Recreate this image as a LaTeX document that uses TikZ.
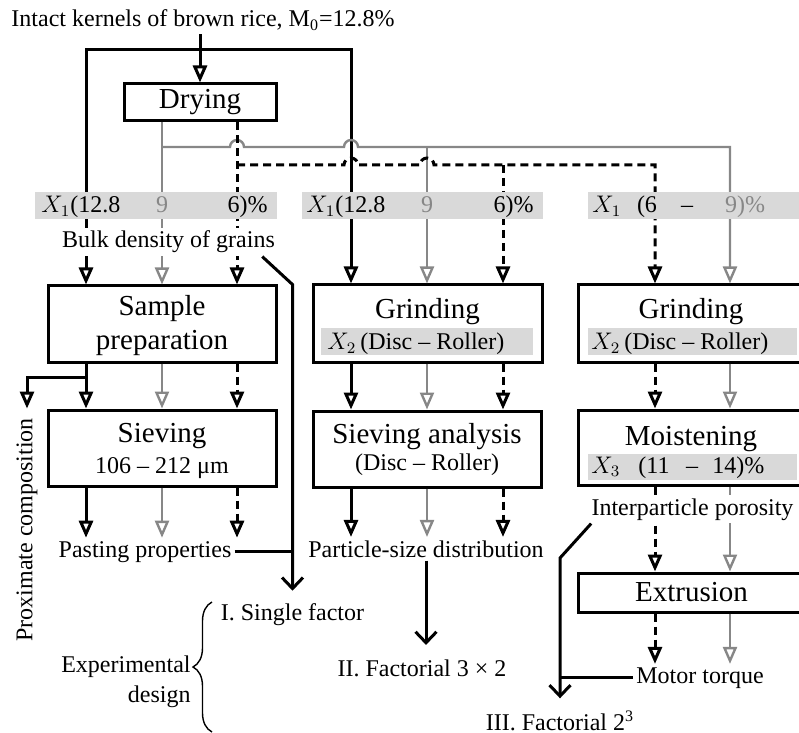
\documentclass[tikz,border=0pt]{standalone}
\usepackage{fontspec}
\setmainfont{Liberation Serif}
\usepackage{tikz}
\usetikzlibrary{arrows.meta,decorations.pathreplacing}
\definecolor{barfill}{HTML}{D9D9D9}
\definecolor{linegray}{HTML}{878787}
\tikzset{
  procbox/.style = {draw=black, line width=1.5pt, inner sep=0pt, font=\fontsize{14.5}{17}\selectfont},
  ptitle/.style = {inner sep=0pt, font=\fontsize{14.5}{17}\selectfont},
  plabel/.style = {inner sep=1.5pt, font=\fontsize{12}{15}\selectfont},
  pcover/.style = {plabel, fill=white},
  pbar/.style = {fill=barfill, inner sep=0pt, minimum height=13.5pt},
  lblack/.style = {draw=black, line width=1.5pt},
  lgray/.style = {draw=linegray, line width=1.2pt},
  ldash/.style = {lblack, dash pattern=on 4pt off 2.5pt},
  design/.style = {lblack, -{Straight Barb[length=5.5pt,width=10.5pt]}},
}

\begin{document}
\begin{tikzpicture}[x=0.5pt, y=-0.5pt, >={Triangle[open,length=8.5pt,width=7pt]}]
\clip [use as bounding box] (0,0) rectangle (799,733);

%column positions
\coordinate (L1) at (86,50);
\coordinate (L2) at (162,147);
\coordinate (L3) at (237,165);
\coordinate (M1) at (351,50);
\coordinate (M2) at (427,147);
\coordinate (M3) at (503,165);
\coordinate (R3) at (655,165);
\coordinate (R2) at (730,147);

\node [plabel, anchor=base] (rice) at (203,27) {Intact kernels of brown rice, M\textsubscript{0}=12.8\%};
\node [procbox, minimum width=76pt, minimum height=18.5pt] (dry) at (200,102.5) {Drying};

%left column
\node [procbox, minimum width=114pt, minimum height=38pt] (prep) at (162,324) {};
\node [ptitle, anchor=base] (prep1) at (162,315) {Sample};
\node [ptitle, anchor=base] (prep2) at (162,350) {preparation};
\node [procbox, minimum width=114pt, minimum height=38pt] (sieve) at (162,448) {};
\node [ptitle, anchor=base] (sieve1) at (162,442) {Sieving};
\node [plabel, anchor=base] (sieve2) at (162,473) {106 – 212 μm};
\node [plabel, anchor=base] (past) at (145,557) {Pasting properties};
\node [plabel, rotate=90] (prox) at (27,530) {Proximate composition};

%middle column
\node [procbox, minimum width=114.5pt, minimum height=38.5pt] (grind) at (427.5,323.5) {};
\node [ptitle, anchor=base] (grind1) at (427.5,318) {Grinding};
\node [pbar, minimum width=106pt] (gbar) at (427,341.5) {};
\node [plabel, anchor=base west] (grind2t) at (324,350) {$X_2$\,(Disc – Roller)};
\node [procbox, minimum width=114pt, minimum height=38pt] (sana) at (427,449) {};
\node [ptitle, anchor=base] (sana1) at (427,443) {Sieving analysis};
\node [plabel, anchor=base] (sana2) at (427,470) {(Disc – Roller)};
\node [plabel, anchor=base] (part) at (426,557) {Particle-size distribution};

%right column
\node [procbox, minimum width=113.5pt, minimum height=38.5pt] (grind2) at (691.5,323.5) {};
\node [ptitle, anchor=base] (grind21) at (691,318) {Grinding};
\node [pbar, minimum width=104.5pt] (g2bar) at (692.5,341.5) {};
\node [plabel, anchor=base west] (grind22) at (588,350) {$X_2$\,(Disc – Roller)};
\node [procbox, minimum width=113.5pt, minimum height=37.5pt] (moist) at (691.5,447.5) {};
\node [ptitle, anchor=base] (moist1) at (691,445) {Moistening};
\node [pbar, minimum width=104.5pt, minimum height=13pt] (mbar) at (692.5,467) {};
\node [plabel, anchor=base west] (moistx) at (588,473) {$X_3$};
\node [plabel, anchor=base west] (moista) at (635,473) {(11};
\node [plabel, anchor=base] (moistb) at (692,473) {–};
\node [plabel, anchor=base west] (moistc) at (709,473) {14)\%};
\node [procbox, minimum width=113.5pt, minimum height=19.5pt] (extr) at (691.5,592.5) {Extrusion};
\node [plabel, anchor=base] (motor) at (700,683) {Motor torque};

%experimental design
\node [plabel, anchor=base] (single) at (292.5,620) {I. Single factor};
\node [plabel, anchor=base] (fac2) at (422,676) {II. Factorial 3 × 2};
\node [plabel, anchor=base] (fac3) at (560,730) {III. Factorial 2\textsuperscript{3}};
\node [plabel, align=right, anchor=east] (expd) at (194,682) {Experimental\\design};

%lines from drying
\draw [lblack, ->] (dry.north |- rice.south) -- (dry.north);
\draw [lblack, <->] (L1 |- prep.north) -- (L1) -- (M1) -- (M1 |- grind.north);
\draw [lgray, ->] (L2 |- dry.south) -- (L2 |- prep.north);
\draw [lgray, ->] (L2) -- ([xshift=-3.5pt]L3 |- L2) arc [start angle=180, end angle=0, radius=3.5pt]
  -- ([xshift=-3.5pt]M1 |- L2) arc [start angle=180, end angle=0, radius=3.5pt]
  -- (R2) -- (R2 |- grind2.north);
\draw [lgray, ->] (M2) -- (M2 |- grind.north);
\draw [ldash, ->] (L3 |- dry.south) -- (L3 |- prep.north);
\draw [ldash, ->] (L3) -- ([xshift=-3.5pt]M1 |- L3) arc [start angle=180, end angle=0, radius=3.5pt]
  -- ([xshift=-3.5pt]M2 |- L3) arc [start angle=180, end angle=0, radius=3.5pt]
  -- (R3) -- (R3 |- grind2.north);
\draw [ldash, ->] (M3) -- (M3 |- grind.north);

%arrows between the steps
\foreach \c/\s in {L1/lblack, L2/lgray, L3/ldash} {
  \draw [\s, ->] (\c |- prep.south) -- (\c |- sieve.north);
  \draw [\s, ->] (\c |- sieve.south) -- (\c |- past.north);
}
\foreach \c/\s in {M1/lblack, M2/lgray, M3/ldash} {
  \draw [\s, ->] (\c |- grind.south) -- (\c |- sana.north);
  \draw [\s, ->] (\c |- sana.south) -- (\c |- part.north);
}
\foreach \c/\s in {R3/ldash, R2/lgray} {
  \draw [\s, ->] (\c |- grind2.south) -- (\c |- moist.north);
  \draw [\s, ->] (\c |- moist.south) -- (\c |- extr.north);
  \draw [\s, ->] (\c |- extr.south) -- (\c |- motor.north);
}
\coordinate (P1) at (86,377);
\draw [lblack, ->] (P1) -- (prox |- P1) -- (prox |- sieve.north);

%moisture bars over the lines
\node [pbar, minimum width=121pt] (bar1) at (156,205.5) {};
\node [pbar, minimum width=120.5pt] (bar2) at (422.5,205.5) {};
\node [pbar, minimum width=108.5pt] (bar3) at (696.5,205.5) {};
\node [plabel, anchor=base west] (t1a) at (38,213) {$X_1$(12.8};
\node [plabel, anchor=base, text=linegray] (t1b) at (162,213) {9};
\node [plabel, anchor=base east] (t1c) at (271,213) {6)\%};
\node [plabel, anchor=base west] (t2a) at (303,213) {$X_1$(12.8};
\node [plabel, anchor=base, text=linegray] (t2b) at (427,213) {9};
\node [plabel, anchor=base east] (t2c) at (537,213) {6)\%};
\node [plabel, anchor=base west] (t3a) at (589,213) {$X_1$};
\node [plabel, anchor=base] (t3b) at (647,213) {(6};
\node [plabel, anchor=base] (t3c) at (687,213) {–};
\node [plabel, anchor=base, text=linegray] (t3d) at (745,213) {9)\%};
\node [pcover, anchor=base] (bulk) at (168.5,248) {Bulk density of grains};
\node [pcover, anchor=base] (inter) at (692.5,515) {Interparticle porosity};

%design connectors
\coordinate (e1) at (560,558);
\draw [design, shorten >=4.5pt] ([xshift=-8pt]bulk.south east) -- (single.north |- prep.north) -- (single.north);
\draw [lblack] (past.east) -- (past.east -| single.north);
\draw [design, shorten >=5.5pt] (part.south) -- (part.south |- fac2.north);
\draw [design, shorten >=4.5pt] ([xshift=1.5pt]inter.south west) -- (e1) -- (fac3.north);
\draw [lblack] (motor.west) -- (motor.west -| fac3.north);
\coordinate (b1) at (212,732);
\coordinate (b2) at (212,602);
\draw [decorate, decoration={brace, amplitude=9.5pt}, line width=0.7pt] (b1) -- (b2);
\end{tikzpicture}
\end{document}
